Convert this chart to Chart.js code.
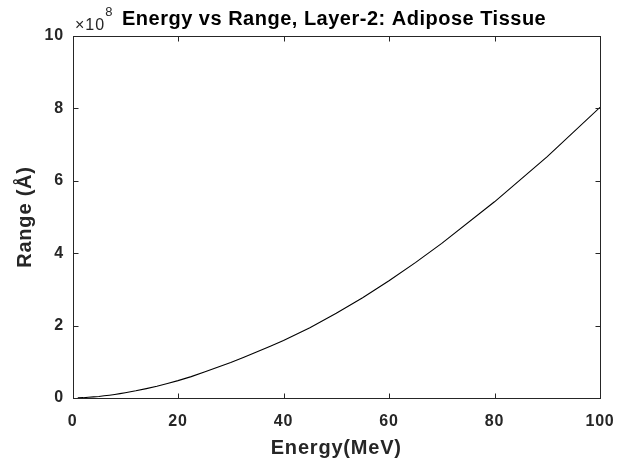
<!DOCTYPE html>
<html>
<head>
<meta charset="utf-8">
<script src="https://cdn.jsdelivr.net/npm/chart.js@4/dist/chart.umd.min.js"></script>
<style>
  body { margin: 0; background: #fff; }
  #wrap { width: 622px; height: 468px; }
</style>
</head>
<body>
<div id="wrap"><canvas id="rangeChart"></canvas></div>
<script>
// energy in MeV, range in units of 1e8 Angstrom
var energyMeV = [1, 2, 3, 4, 5, 6, 7, 8, 9, 10, 12, 14, 16, 18, 20, 22.5, 25, 27.5, 30, 32.5,
                 35, 37.5, 40, 45, 50, 55, 60, 65, 70, 80, 90, 100];
var rangeE8 = [0.003, 0.009, 0.019, 0.030, 0.043, 0.060, 0.078, 0.098, 0.12, 0.145, 0.198, 0.26,
               0.325, 0.40, 0.48, 0.59, 0.72, 0.85, 0.98, 1.125, 1.275, 1.43, 1.59, 1.94, 2.34,
               2.77, 3.24, 3.74, 4.27, 5.42, 6.67, 8.03];
var xTicks = [0, 20, 40, 60, 80, 100];
var yTicks = [0, 2, 4, 6, 8, 10];
var titleText = "Energy vs Range, Layer-2: Adipose Tissue";
var exponentText = "8";

var axisColor = "#262626";
var fontFam = "'Liberation Sans', Arial, sans-serif";

var points = energyMeV.map(function (e, i) { return { x: e, y: rangeE8[i] }; });

// matlab text is a little loose, widen canvas text slightly
var spacing = {
  id: 'spacing',
  beforeDraw: function (chart) { chart.ctx.letterSpacing = "0.8px"; }
};

// matlab style box, inward ticks, title and exponent
var matlabBox = {
  id: 'matlabBox',
  afterDraw: function (chart) {
    var ctx = chart.ctx;
    var a = chart.chartArea;
    var xs = chart.scales.x, ys = chart.scales.y;
    ctx.save();
    ctx.strokeStyle = axisColor;
    ctx.lineWidth = 1;
    var l = Math.round(a.left) + 0.5, r = Math.round(a.right) + 0.5;
    var t = Math.round(a.top) + 0.5, b = Math.round(a.bottom) + 0.5;
    ctx.strokeRect(l, t, r - l, b - t);
    var tl = 5;
    ctx.beginPath();
    xTicks.forEach(function (v) {
      var px = Math.round(xs.getPixelForValue(v)) + 0.5;
      ctx.moveTo(px, b); ctx.lineTo(px, b - tl);
      ctx.moveTo(px, t); ctx.lineTo(px, t + tl);
    });
    yTicks.forEach(function (v) {
      var py = Math.round(ys.getPixelForValue(v)) + 0.5;
      ctx.moveTo(l, py); ctx.lineTo(l + tl, py);
      ctx.moveTo(r, py); ctx.lineTo(r - tl, py);
    });
    ctx.stroke();

    // title
    ctx.fillStyle = "#000";
    ctx.font = "bold 20px " + fontFam;
    ctx.letterSpacing = "0.5px";
    ctx.textAlign = "left";
    ctx.textBaseline = "alphabetic";
    ctx.fillText(titleText, 122, 24.5);

    // x10^8 exponent
    ctx.fillStyle = axisColor;
    ctx.font = "16px " + fontFam;
    ctx.letterSpacing = "1px";
    ctx.fillText("\u00d710", 75, 29.5);
    var w = ctx.measureText("\u00d710").width;
    ctx.font = "13px " + fontFam;
    ctx.fillText(exponentText, 75 + w, 16);
    ctx.restore();
  }
};

var config = {
  type: 'scatter',
  data: {
    datasets: [{
      label: "Range",
      data: points,
      showLine: true,
      borderColor: "#000",
      borderWidth: 1.1,
      pointRadius: 0,
      fill: false,
      tension: 0
    }]
  },
  options: {
    responsive: false,
    animation: false,
    layout: { padding: { top: 36, right: 22, bottom: 0, left: 0 } },
    plugins: {
      legend: { display: false },
      tooltip: { enabled: false }
    },
    scales: {
      x: {
        type: 'linear',
        min: 0, max: 100,
        afterBuildTicks: function (s) { s.ticks = xTicks.map(function (v) { return { value: v }; }); },
        afterFit: function (s) { s.height = 70; s.paddingLeft = 0; s.paddingRight = 0; },
        grid: { display: false, drawTicks: false },
        border: { display: false },
        ticks: {
          padding: 14,
          color: axisColor,
          font: { family: fontFam, size: 16, weight: 'bold' }
        },
        title: {
          display: true,
          text: "Energy(MeV)",
          color: axisColor,
          padding: { top: 0, bottom: 7.5 },
          font: { family: fontFam, size: 20, weight: 'bold' }
        }
      },
      y: {
        type: 'linear',
        min: 0, max: 10,
        afterBuildTicks: function (s) { s.ticks = yTicks.map(function (v) { return { value: v }; }); },
        afterFit: function (s) { s.width = 72.5; s.paddingTop = 0; s.paddingBottom = 0; },
        grid: { display: false, drawTicks: false },
        border: { display: false },
        ticks: {
          padding: 8.5,
          color: axisColor,
          font: { family: fontFam, size: 16, weight: 'bold' }
        },
        title: {
          display: true,
          text: "Range (Å)",
          color: axisColor,
          padding: { top: 13, bottom: 0 },
          font: { family: fontFam, size: 20, weight: 'bold' }
        }
      }
    }
  },
  plugins: [spacing, matlabBox]
};

var cv = document.getElementById("rangeChart");
cv.width = 622;
cv.height = 468;
var rangeChart = new Chart(cv.getContext("2d"), config);
</script>
</body>
</html>
